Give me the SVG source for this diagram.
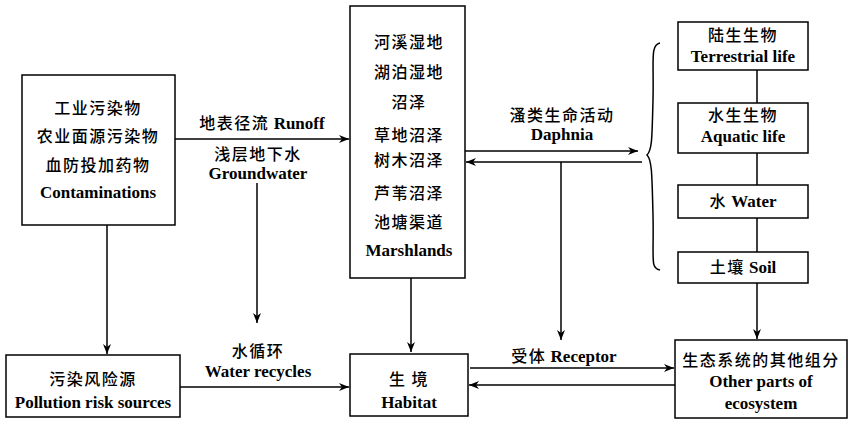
<svg xmlns="http://www.w3.org/2000/svg" width="850" height="421" viewBox="0 0 850 421">
<defs>
<marker id="ah" viewBox="0 0 10 8" refX="10" refY="4" markerWidth="10" markerHeight="8" markerUnits="userSpaceOnUse" orient="auto">
<path d="M0,0 L10,4 L0,8 L3,4 Z" fill="#000"/>
</marker>
<style>
.b{fill:#fff;stroke:#000;stroke-width:1.5}
.c{stroke:#000;stroke-width:1.5;fill:none}
.a{stroke:#000;stroke-width:1.5;fill:none;marker-end:url(#ah)}
text{font-family:"Liberation Serif","Noto Sans CJK SC",serif;font-size:17px;font-weight:bold;text-anchor:middle;fill:#000}
.z{font-family:"Noto Sans CJK SC",sans-serif;font-size:16px;font-weight:500;letter-spacing:1.5px}
</style>
</defs>
<rect width="850" height="421" fill="#fff"/>
<g id="connectors">
<path class="a" d="M175,139 H349"/>
<path class="a" d="M107,225 V354"/>
<path class="a" d="M257,183 V323"/>
<path class="a" d="M180,387 H349"/>
<path class="a" d="M411,278 V352"/>
<path class="a" d="M465,151 H638"/>
<path class="a" d="M642,162 H466"/>
<path class="a" d="M561,162 V340"/>
<path class="a" d="M470,368 H674"/>
<path class="a" d="M675,385 H469"/>
<path class="c" d="M757,70 V103 M757,153 V185 M757,218 V252"/>
<path class="a" d="M757,283 V339"/>
<path class="c" d="M660,43 C650,45 654,60 653,100 C652,140 652,150 647,155 C652,160 652,175 653,215 C654,260 650,268 660,270"/>
</g>
<g id="label-runoff"><text x="262" y="129"><tspan class="z">地表径流</tspan> Runoff</text></g>
<g id="label-groundwater"><text x="258" y="160" class="z">浅层地下水</text><text x="258" y="179">Groundwater</text></g>
<g id="label-recycle"><text x="258" y="357" class="z">水循环</text><text x="258" y="377">Water recycles</text></g>
<g id="label-daphnia"><text x="562" y="121" class="z">溞类生命活动</text><text x="562" y="140">Daphnia</text></g>
<g id="label-receptor"><text x="564" y="362"><tspan class="z">受体</tspan> Receptor</text></g>
<g id="contaminations">
<rect class="b" x="22" y="75" width="153" height="150"/>
<text x="98" y="114" class="z">工业污染物</text>
<text x="98" y="142" class="z">农业面源污染物</text>
<text x="98" y="171" class="z">血防投加药物</text>
<text x="98" y="198">Contaminations</text>
</g>
<g id="marshlands">
<rect class="b" x="350" y="6" width="115" height="272"/>
<text x="409" y="48" class="z">河溪湿地</text>
<text x="409" y="78" class="z">湖泊湿地</text>
<text x="409" y="108" class="z">沼泽</text>
<text x="409" y="141" class="z">草地沼泽</text>
<text x="409" y="166" class="z">树木沼泽</text>
<text x="409" y="199" class="z">芦苇沼泽</text>
<text x="409" y="228" class="z">池塘渠道</text>
<text x="409" y="256">Marshlands</text>
</g>
<g id="terrestrial">
<rect class="b" x="678" y="22" width="130" height="48"/>
<text x="743" y="41" class="z">陆生生物</text>
<text x="743" y="62">Terrestrial life</text>
</g>
<g id="aquatic">
<rect class="b" x="678" y="103" width="130" height="50"/>
<text x="743" y="121" class="z">水生生物</text>
<text x="743" y="142">Aquatic life</text>
</g>
<g id="water">
<rect class="b" x="678" y="185" width="130" height="33"/>
<text x="743" y="207"><tspan class="z">水</tspan> Water</text>
</g>
<g id="soil">
<rect class="b" x="678" y="252" width="130" height="31"/>
<text x="743" y="273"><tspan class="z">土壤</tspan> Soil</text>
</g>
<g id="pollution">
<rect class="b" x="6" y="355" width="174" height="62"/>
<text x="93" y="385" class="z">污染风险源</text>
<text x="93" y="408">Pollution risk sources</text>
</g>
<g id="habitat">
<rect class="b" x="350" y="354" width="118" height="62"/>
<text x="409" y="385" class="z">生 境</text>
<text x="409" y="408">Habitat</text>
</g>
<g id="other">
<rect class="b" x="675" y="340" width="172" height="78"/>
<text x="761" y="366" class="z">生态系统的其他组分</text>
<text x="761" y="387">Other parts of</text>
<text x="761" y="409">ecosystem</text>
</g>
</svg>
